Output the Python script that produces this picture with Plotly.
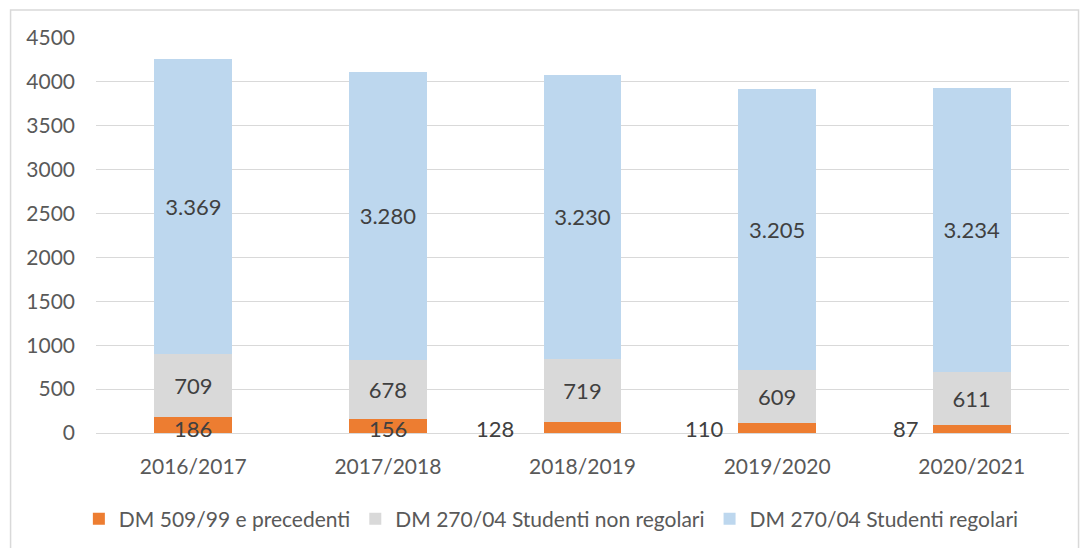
import plotly.graph_objects as go

years = ["2016/2017", "2017/2018", "2018/2019", "2019/2020", "2020/2021"]
dm509 = [186, 156, 128, 110, 87]
non_regolari = [709, 678, 719, 609, 611]
regolari = [3369, 3280, 3230, 3205, 3234]
y_ticks = [0, 500, 1000, 1500, 2000, 2500, 3000, 3500, 4000, 4500]

def it_fmt(v):
    return f"{v:,}".replace(",", ".")

FONT = "Lato, 'Open Sans', sans-serif"
LABEL_COLOR = "#404040"
TICK_COLOR = "#595959"

fig = go.Figure()
fig.add_trace(go.Bar(x=years, y=dm509, name="DM 509/99 e precedenti",
                     marker=dict(color="#ED7D31", line=dict(width=0)), width=0.4))
fig.add_trace(go.Bar(x=years, y=non_regolari, name="DM 270/04 Studenti non regolari",
                     marker=dict(color="#D9D9D9", line=dict(width=0)), width=0.4,
                     text=[it_fmt(v) for v in non_regolari], textposition="inside",
                     insidetextanchor="middle",
                     textfont=dict(size=22, color=LABEL_COLOR, family=FONT)))
fig.add_trace(go.Bar(x=years, y=regolari, name="DM 270/04 Studenti regolari",
                     marker=dict(color="#BDD7EE", line=dict(width=0)), width=0.4,
                     text=[it_fmt(v) for v in regolari], textposition="inside",
                     insidetextanchor="middle",
                     textfont=dict(size=22, color=LABEL_COLOR, family=FONT)))

# orange labels: first two centred on the bar, others to the left (as in original)
shifts = [0, 0, -88, -73, -66]
for yr, v, s in zip(years, dm509, shifts):
    fig.add_annotation(x=yr, y=0, text=it_fmt(v), showarrow=False, xshift=s, yshift=5,
                       yanchor="middle",
                       font=dict(size=22, color=LABEL_COLOR, family=FONT))

fig.add_shape(type="rect", xref="paper", yref="paper", x0=-0.0878, x1=1.0098,
              y0=-0.35, y1=1.0709, line=dict(color="#D9D9D9", width=1.5), layer="below")

fig.update_layout(
    barmode="stack",
    width=1086, height=548,
    margin=dict(l=95.5, r=16.5, t=38, b=115, autoexpand=False),
    paper_bgcolor="white", plot_bgcolor="white",
    font=dict(family=FONT, color=TICK_COLOR, size=21),
    showlegend=True,
    legend=dict(orientation="h", x=0.468, xanchor="center", y=-0.218, yanchor="middle",
                font=dict(size=21, color=TICK_COLOR, family=FONT), traceorder="normal",
                itemwidth=30),
)
fig.update_xaxes(showline=False, ticks="", automargin=False,
                 tickfont=dict(size=21, color=TICK_COLOR), ticklabelstandoff=19)
fig.update_yaxes(range=[0, 4500], tickvals=y_ticks, showgrid=True, gridcolor="#D9D9D9",
                 gridwidth=1, zeroline=True, zerolinecolor="#D9D9D9", zerolinewidth=1,
                 ticks="", automargin=False,
                 tickfont=dict(size=21, color=TICK_COLOR), ticklabelstandoff=20)

fig.write_html("out.html", config={"displayModeBar": False},
               post_script="document.body.style.margin='0';")
